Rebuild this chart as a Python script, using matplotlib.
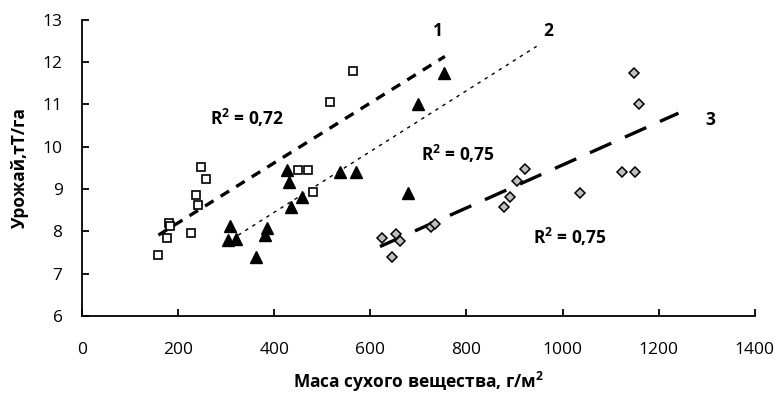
import numpy as np
import matplotlib
matplotlib.use("Agg")
import matplotlib.pyplot as plt

plt.rcParams['font.family'] = ['Open Sans', 'DejaVu Sans']
plt.rcParams['mathtext.fontset'] = 'custom'
plt.rcParams['mathtext.rm'] = 'Open Sans'
plt.rcParams['mathtext.bf'] = 'Open Sans:bold'

# series 1 - squares
x1 = [158, 176, 180, 184, 226, 237, 241, 247, 259, 449, 471, 481, 516, 563]
y1 = [7.43, 7.84, 8.20, 8.13, 7.97, 8.85, 8.62, 9.52, 9.23, 9.44, 9.44, 8.94, 11.05, 11.79]
# series 2 - triangles
x2 = [304, 308, 320, 362, 381, 384, 426, 431, 434, 458, 537, 570, 679, 700, 754]
y2 = [7.80, 8.13, 7.82, 7.39, 7.91, 8.07, 9.45, 9.17, 8.58, 8.80, 9.40, 9.40, 8.90, 11.00, 11.74]
# series 3 - diamonds
x3 = [625, 646, 653, 661, 727, 734, 878, 890, 906, 922, 1036, 1123, 1151, 1148, 1159]
y3 = [7.85, 7.40, 7.94, 7.78, 8.10, 8.17, 8.58, 8.82, 9.19, 9.47, 8.90, 9.40, 9.40, 11.75, 11.01]

# trend lines (x range, y at ends)
trend1_x = [159, 755]
trend1_y = [7.91, 12.13]
trend2_x = [325, 946]
trend2_y = [7.91, 12.37]
trend3_x = [620, 1241]
trend3_y = [7.64, 10.79]

r2_labels = [r"R$^{\mathbf{2}}$ = 0,72", r"R$^{\mathbf{2}}$ = 0,75", r"R$^{\mathbf{2}}$ = 0,75"]
r2_pos = [(343, 10.67), (783, 9.83), (1015, 7.87)]
num_labels = ["1", "2", "3"]
num_pos = [(741, 12.72), (970, 12.72), (1308, 10.63)]

fig = plt.figure(figsize=(7.75, 4), dpi=100)
ax = fig.add_axes([0.1058, 0.21, 0.974 - 0.1058, 0.951 - 0.21])

ax.plot(trend1_x, trend1_y, color='black', lw=2.4, dashes=(3, 2.5), solid_capstyle='butt')
ax.plot(trend2_x, trend2_y, color='black', lw=1.0, dashes=(2.5, 3.5))
ax.plot(trend3_x, trend3_y, color='black', lw=2.4, dashes=(7, 4.5))

ax.plot(x1, y1, 's', ms=6.2, mfc='white', mec='black', mew=1.2, ls='none')
ax.plot(x2, y2, '^', ms=8, mfc='black', mec='black', ls='none')
ax.plot(x3, y3, 'D', ms=5.5, mfc='#bfbfbf', mec='black', mew=1.1, ls='none')

for t, (px, py) in zip(r2_labels, r2_pos):
    ax.text(px, py, t, ha='center', va='center', fontsize=12.5, fontweight='bold')
for t, (px, py) in zip(num_labels, num_pos):
    ax.text(px, py, t, ha='center', va='center', fontsize=12.5, fontweight='bold')

ax.set_xlim(0, 1400)
ax.set_ylim(6, 13)
ax.set_xticks(np.arange(0, 1401, 200))
ax.set_yticks(np.arange(6, 14, 1))
ax.spines['top'].set_visible(False)
ax.spines['right'].set_visible(False)
ax.spines['left'].set_linewidth(1.3)
ax.spines['bottom'].set_linewidth(1.3)
ax.tick_params(axis='x', direction='in', length=5, width=1.3, pad=19, labelsize=12.5)
ax.tick_params(axis='y', direction='in', length=5, width=1.3, pad=14, labelsize=12.5)

ax.set_xlabel(r"Маса сухого вещества, г/м$^{\mathbf{2}}$", fontsize=12.5, fontweight='bold', labelpad=8)
ax.set_ylabel("Урожай,тТ/га", fontsize=12.5, fontweight='bold', labelpad=10)

fig.savefig("out.png", dpi=100, facecolor='w')
